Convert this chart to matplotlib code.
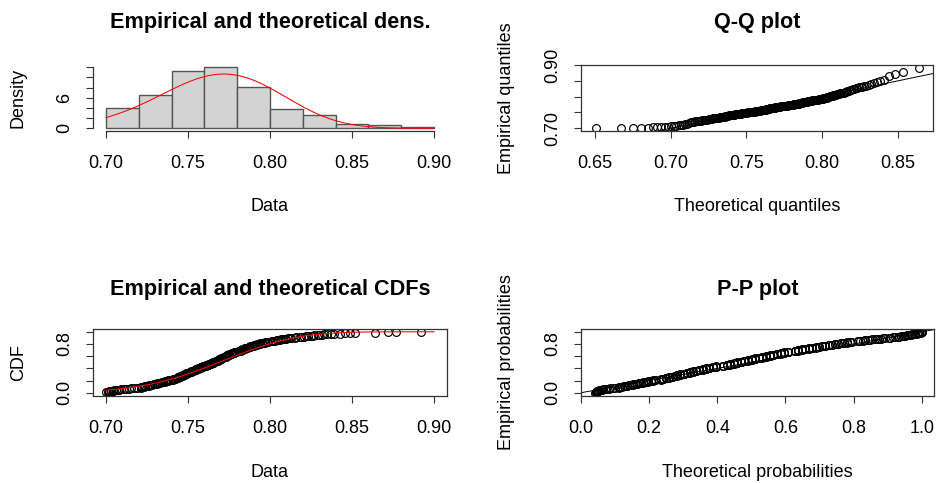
import math
import numpy as np
import matplotlib.pyplot as plt

plt.rcParams['font.family'] = ['Liberation Sans', 'DejaVu Sans']

values = [
    0.700, 0.701, 0.701, 0.702, 0.702, 0.703, 0.703, 0.704, 0.704, 0.705,
    0.706, 0.707, 0.708, 0.709, 0.711, 0.712, 0.714, 0.715, 0.717, 0.719,
    0.721, 0.721, 0.722, 0.722, 0.723, 0.724, 0.724, 0.725, 0.726, 0.726,
    0.727, 0.727, 0.728, 0.729, 0.729, 0.730, 0.731, 0.731, 0.732, 0.732,
    0.733, 0.734, 0.734, 0.735, 0.735, 0.736, 0.736, 0.737, 0.737, 0.738,
    0.738, 0.739, 0.739,
    0.741, 0.741, 0.742, 0.742, 0.742, 0.743, 0.743, 0.743, 0.744, 0.744,
    0.744, 0.745, 0.745, 0.745, 0.746, 0.746, 0.746, 0.747, 0.747, 0.747,
    0.748, 0.748, 0.748, 0.749, 0.749, 0.749, 0.750, 0.750, 0.750, 0.751,
    0.751, 0.751, 0.752, 0.752, 0.752, 0.753, 0.753, 0.753, 0.754, 0.754,
    0.754, 0.755, 0.755, 0.755, 0.756, 0.756, 0.756, 0.757, 0.757, 0.757,
    0.758, 0.758, 0.758, 0.759, 0.759, 0.759,
    0.761, 0.761, 0.761, 0.762, 0.762, 0.762, 0.763, 0.763, 0.763, 0.764,
    0.764, 0.764, 0.765, 0.765, 0.765, 0.765, 0.766, 0.766, 0.766, 0.767,
    0.767, 0.767, 0.768, 0.768, 0.768, 0.769, 0.769, 0.769, 0.770, 0.770,
    0.770, 0.770, 0.771, 0.771, 0.771, 0.772, 0.772, 0.772, 0.773, 0.773,
    0.773, 0.774, 0.774, 0.774, 0.774, 0.775, 0.775, 0.775, 0.776, 0.776,
    0.776, 0.777, 0.777, 0.777, 0.778, 0.778, 0.778, 0.779, 0.779, 0.779,
    0.781, 0.781, 0.781, 0.782, 0.782, 0.782, 0.783, 0.783, 0.783, 0.784,
    0.784, 0.785, 0.785, 0.785, 0.786, 0.786, 0.787, 0.787, 0.788, 0.788,
    0.788, 0.789, 0.789, 0.790, 0.790, 0.791, 0.791, 0.792, 0.792, 0.793,
    0.793, 0.794, 0.794, 0.795, 0.795, 0.796, 0.797, 0.797, 0.798, 0.798,
    0.799,
    0.801, 0.801, 0.802, 0.803, 0.804, 0.804, 0.805, 0.806, 0.807, 0.808,
    0.809, 0.810, 0.811, 0.812, 0.813, 0.815, 0.816, 0.818, 0.819,
    0.821, 0.822, 0.823, 0.825, 0.826, 0.827, 0.829, 0.830, 0.832, 0.833,
    0.835, 0.837, 0.839,
    0.843, 0.846, 0.849, 0.852,
    0.864, 0.872, 0.877,
    0.892,
]

bin_edges = [0.70, 0.72, 0.74, 0.76, 0.78, 0.80, 0.82, 0.84, 0.86, 0.88, 0.90]

# fitted beta distribution
beta_a = 97.4
beta_b = 29.5

W, H = 936, 483


def box(l, t, r, b):
    return [l / W, 1 - b / H, (r - l) / W, (b - t) / H]


# beta pdf / cdf / quantile on a fine grid
grid = np.linspace(0.40, 0.999, 40000)
log_norm = math.lgamma(beta_a) + math.lgamma(beta_b) - math.lgamma(beta_a + beta_b)
pdf = np.exp((beta_a - 1) * np.log(grid) + (beta_b - 1) * np.log(1 - grid) - log_norm)
cdf = np.concatenate([[0], np.cumsum((pdf[1:] + pdf[:-1]) / 2 * np.diff(grid))])
cdf = cdf / cdf[-1]

obs = np.sort(np.array(values))
n = len(obs)
ppts = (np.arange(1, n + 1) - 0.5) / n
theo_q = np.interp(ppts, cdf, grid)
theo_p = np.interp(obs, grid, cdf)
ecdf = np.arange(1, n + 1) / n

in_range = (grid >= bin_edges[0]) & (grid <= bin_edges[-1])

fig = plt.figure(figsize=(W / 100, H / 100), dpi=100)

tick_kw = dict(direction='out', length=5, width=0.8, color='#333333', labelsize=13)
mk = dict(linestyle='none', marker='o', ms=5.6, mfc='none', mec='black', mew=0.85)


def style(ax):
    ax.tick_params(axis='both', **tick_kw)
    ax.tick_params(axis='x', pad=12)
    ax.tick_params(axis='y', pad=9, labelrotation=90)
    for lab in ax.get_yticklabels():
        lab.set_va('center')
    for s in ax.spines.values():
        s.set_color('#333333')
        s.set_linewidth(0.9)


def labels(ax, title, xl, yl, pad):
    ax.set_title(title, fontsize=15.6, fontweight='bold', pad=pad)
    ax.set_xlabel(xl, fontsize=13, va='center')
    ax.set_ylabel(yl, fontsize=13, va='center')
    ax.xaxis.set_label_coords(0.5, -1.14)
    ax.yaxis.set_label_coords(-0.211, 0.5)


# histogram + density
ax1 = fig.add_axes(box(93, 64.5, 447, 131))
ax1.hist(obs, bins=bin_edges, density=True, color='#d3d3d3', edgecolor='#555555', linewidth=1.0)
ax1.plot(grid[in_range], pdf[in_range], color='red', lw=0.75)
ax1.set_xlim(0.692, 0.908)
ax1.set_ylim(-0.53, 12.55)
ax1.set_xticks([0.70, 0.75, 0.80, 0.85, 0.90], ['0.70', '0.75', '0.80', '0.85', '0.90'])
ax1.set_yticks([0, 2, 4, 6, 8, 10, 12], ['0', '', '', '6', '', '', ''])
ax1.spines['top'].set_visible(False)
ax1.spines['right'].set_visible(False)
ax1.spines['left'].set_bounds(0, 12)
ax1.spines['bottom'].set_bounds(0.70, 0.90)
style(ax1)
labels(ax1, 'Empirical and theoretical dens.', 'Data', 'Density', 26)

# Q-Q plot
ax2 = fig.add_axes(box(581, 64.5, 933, 131))
ax2.plot(theo_q, obs, **mk)
ax2.axline((0.6, 0.6), slope=1, color='black', lw=0.7)
ax2.set_xlim(0.6408, 0.8731)
ax2.set_ylim(0.6915, 0.9016)
ax2.set_xticks([0.65, 0.70, 0.75, 0.80, 0.85], ['0.65', '0.70', '0.75', '0.80', '0.85'])
ax2.set_yticks([0.70, 0.75, 0.80, 0.85, 0.90], ['0.70', '', '', '', '0.90'])
style(ax2)
labels(ax2, 'Q-Q plot', 'Theoretical quantiles', 'Empirical quantiles', 26)

# CDF plot
ax3 = fig.add_axes(box(93, 329, 447, 396))
ax3.plot(obs, ecdf, **mk)
ax3.plot(grid[in_range], cdf[in_range], color='red', lw=0.75)
ax3.set_xlim(0.692, 0.908)
ax3.set_ylim(-0.054, 1.046)
ax3.set_xticks([0.70, 0.75, 0.80, 0.85, 0.90], ['0.70', '0.75', '0.80', '0.85', '0.90'])
ax3.set_yticks([0, 0.2, 0.4, 0.6, 0.8, 1.0], ['0.0', '', '', '', '0.8', ''])
style(ax3)
labels(ax3, 'Empirical and theoretical CDFs', 'Data', 'CDF', 24.5)

# P-P plot
ax4 = fig.add_axes(box(581, 329, 934, 396))
ax4.plot(theo_p, ppts, **mk)
ax4.axline((0, 0), slope=1, color='black', lw=0.7)
ax4.set_xlim(0.0, 1.036)
ax4.set_ylim(-0.054, 1.046)
ax4.set_xticks([0, 0.2, 0.4, 0.6, 0.8, 1.0], ['0.0', '0.2', '0.4', '0.6', '0.8', '1.0'])
ax4.set_yticks([0, 0.2, 0.4, 0.6, 0.8, 1.0], ['0.0', '', '', '', '0.8', ''])
style(ax4)
labels(ax4, 'P-P plot', 'Theoretical probabilities', 'Empirical probabilities', 24.5)

fig.savefig('out.png', dpi=100)
